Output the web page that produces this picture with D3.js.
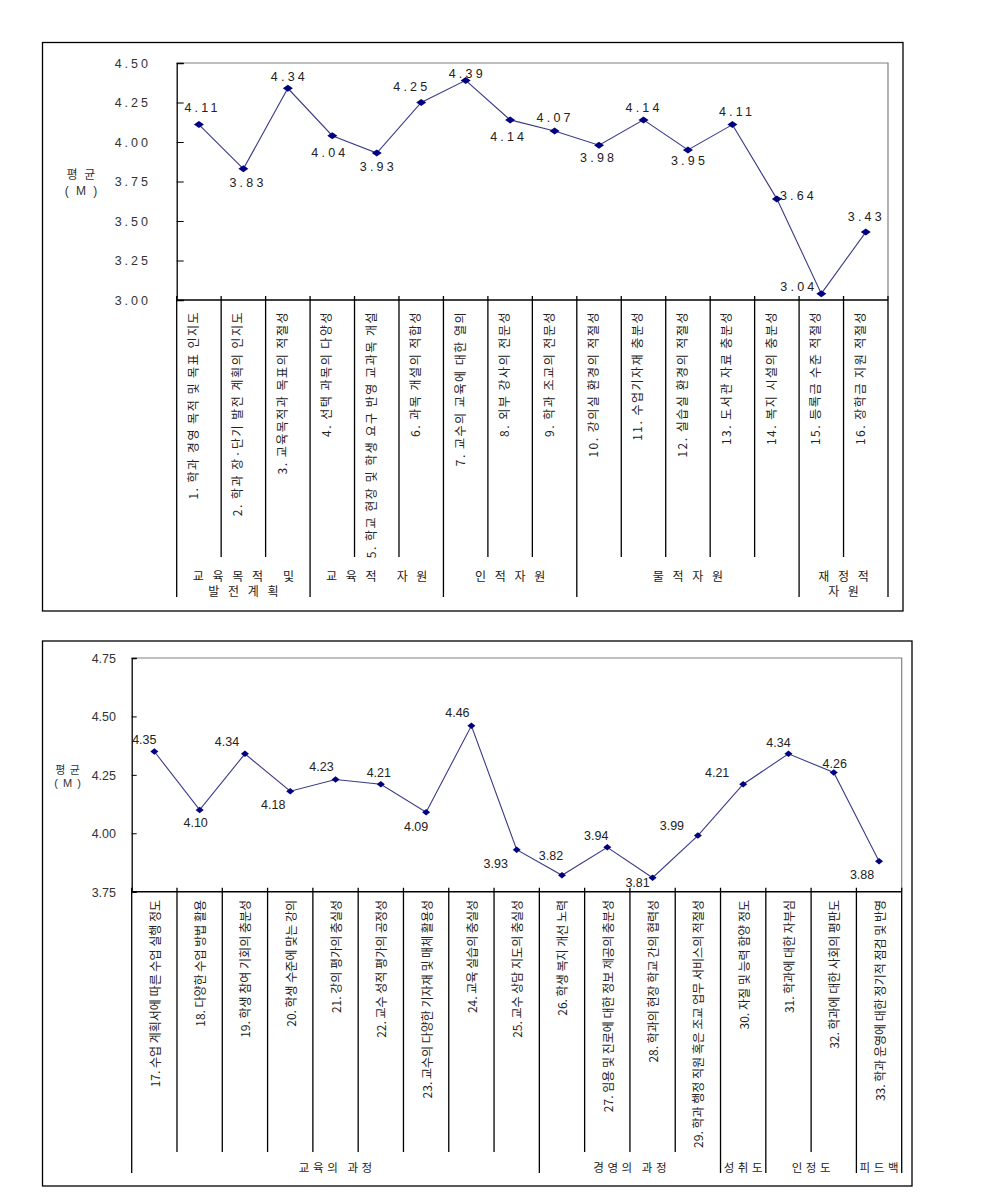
<!DOCTYPE html>
<html><head><meta charset="utf-8">
<script src="https://cdn.jsdelivr.net/npm/d3@7"></script>
<style>
html,body{margin:0;padding:0;background:#fff;}
svg{display:block;}
text{font-family:"Liberation Sans",Arial,sans-serif;white-space:pre;}
.kr{font-family:"Noto Sans CJK KR","Noto Sans",sans-serif;}
</style></head>
<body>
<svg id="chart" width="986" height="1194"></svg>
<script>
// ---------- data ----------
const topCategories = [
  "1. 학과 경영 목적 및 목표 인지도",
  "2. 학과 장·단기 발전 계획의 인지도",
  "3. 교육목적과 목표의 적절성",
  "4. 선택 과목의 다양성",
  "5. 학교 현장 및 학생 요구 반영 교과목 개설",
  "6. 과목 개설의 적합성",
  "7. 교수의 교육에 대한 열의",
  "8. 외부 강사의 전문성",
  "9. 학과 조교의 전문성",
  "10. 강의실 환경의 적절성",
  "11. 수업기자재 충분성",
  "12. 실습실 환경의 적절성",
  "13. 도서관 자료 충분성",
  "14. 복지 시설의 충분성",
  "15. 등록금 수준 적절성",
  "16. 장학금 지원 적절성"
];
const topValues = [4.11, 3.83, 4.34, 4.04, 3.93, 4.25, 4.39, 4.14, 4.07, 3.98, 4.14, 3.95, 4.11, 3.64, 3.04, 3.43];
const topGroupNames = [["교 육 목 적   및", "발 전 계 획"], ["교 육 적   자 원"], ["인 적 자 원"], ["물 적 자 원"], ["재 정 적", "자 원"]];
const topGroupSizes = [3, 3, 3, 5, 2];
const topTicks = [3.00, 3.25, 3.50, 3.75, 4.00, 4.25, 4.50];

const bottomCategories = [
  "17. 수업 계획서에 따른 수업 실행 정도",
  "18. 다양한 수업 방법 활용",
  "19. 학생 참여 기회의 충분성",
  "20. 학생 수준에 맞는 강의",
  "21. 강의 평가의 충실성",
  "22. 교수 성적 평가의 공정성",
  "23. 교수의 다양한 기자재 및 매체 활용성",
  "24. 교육 실습의 충실성",
  "25. 교수 상담 지도의 충실성",
  "26. 학생 복지 개선 노력",
  "27. 임용 및 진로에 대한 정보 제공의 충분성",
  "28. 학과의 현장 학교 간의 협력성",
  "29. 학과 행정 직원 혹은 조교 업무 서비스의 적절성",
  "30. 자질 및 능력 함양 정도",
  "31. 학과에 대한 자부심",
  "32. 학과에 대한 사회의 평판도",
  "33. 학과 운영에 대한 정기적 점검 및 반영"
];
const bottomValues = [4.35, 4.10, 4.34, 4.18, 4.23, 4.21, 4.09, 4.46, 3.93, 3.82, 3.94, 3.81, 3.99, 4.21, 4.34, 4.26, 3.88];
const bottomGroupNames = [["교 육 의   과 정"], ["경 영 의   과 정"], ["성 취 도"], ["인 정 도"], ["피 드 백"]];
const bottomGroupSizes = [9, 4, 1, 2, 1];
const bottomTicks = [3.75, 4.00, 4.25, 4.50, 4.75];

// ---------- layout (label placement offsets, px) ----------
const topLabelOffsets = [[2,-17],[3,14],[0,-11],[-4,17],[0,14],[-11,-16],[0,-6],[-3,17],[-1,-13],[-2,13],[-1,-12],[0,11],[3,-13],[20,-3],[-24,-7],[-1,-15]];
const bottomLabelOffsets = [[-10,-11],[-4,13],[-18,-12],[-17,14],[-14,-13],[-2,-11],[-10,15],[-14,-13],[-21,14],[-11,-19],[-11,-11],[-15,5],[-26,-10],[-26,-11],[-10,-11],[1,-9],[-17,14]];

const svg = d3.select("#chart");

function drawPanel(cfg) {
  const g = svg.append("g");
  g.append("rect").attr("x", cfg.outer[0]).attr("y", cfg.outer[1])
    .attr("width", cfg.outer[2] - cfg.outer[0]).attr("height", cfg.outer[3] - cfg.outer[1])
    .attr("fill", "none").attr("stroke", "#000").attr("stroke-width", 1.3);

  const x = d3.scaleBand().domain(cfg.categories).range([cfg.left, cfg.right]);
  const y = d3.scaleLinear().domain(cfg.domain).range([cfg.bottom, cfg.top]);

  g.append("path").attr("d", `M${cfg.left},${cfg.top}H${cfg.right}V${cfg.bottom}`)
    .attr("fill", "none").attr("stroke", "#808080").attr("stroke-width", 1.2);

  const yAxis = d3.axisLeft(y).tickValues(cfg.ticks).tickSize(-cfg.ytick).tickPadding(0)
    .tickFormat(d3.format(".2f"));
  const ya = g.append("g").attr("transform", `translate(${cfg.left},0)`).call(yAxis);
  ya.select(".domain").attr("stroke", "#000").attr("stroke-width", 1.3);
  ya.selectAll(".tick line").attr("stroke", "#000");
  ya.selectAll(".tick text").attr("x", cfg.tickLabelX - cfg.left)
    .attr("font-size", cfg.tickFont).attr("fill", "#333")
    .attr("letter-spacing", cfg.tickSpacing).attr("dy", "0.35em");

  g.append("text").attr("class", "kr").attr("x", cfg.titleX).attr("y", cfg.titleY1)
    .attr("text-anchor", "middle").attr("font-size", cfg.titleFont).attr("fill", "#333")
    .attr("letter-spacing", cfg.titleSpacing).text("평 균");
  g.append("text").attr("x", cfg.titleX).attr("y", cfg.titleY2)
    .attr("text-anchor", "middle").attr("font-size", cfg.titleFont).attr("fill", "#333")
    .attr("letter-spacing", cfg.titleSpacing).text("( M )");

  g.append("line").attr("x1", cfg.left).attr("x2", cfg.right).attr("y1", cfg.bottom).attr("y2", cfg.bottom)
    .attr("stroke", "#000").attr("stroke-width", 1.5);

  const n = cfg.categories.length;
  const groupEnds = new Set();
  let acc = 0;
  cfg.groupSizes.forEach(s => { acc += s; groupEnds.add(acc); });
  for (let i = 0; i <= n; i++) {
    const xe = i < n ? x(cfg.categories[i]) : cfg.right;
    const long = i === 0 || groupEnds.has(i);
    g.append("line").attr("x1", xe).attr("x2", xe)
      .attr("y1", cfg.bottom - 4).attr("y2", long ? cfg.groupLineEnd : cfg.innerLineEnd)
      .attr("stroke", "#000").attr("stroke-width", 1.3);
  }

  cfg.categories.forEach(c => {
    const cx = x(c) + x.bandwidth() / 2 + cfg.catDx;
    g.append("text").attr("class", "kr")
      .attr("transform", `translate(${cx},${cfg.catTop}) rotate(-90)`)
      .attr("text-anchor", "end").attr("dominant-baseline", "central")
      .attr("font-size", cfg.catFont).attr("letter-spacing", cfg.catSpacing)
      .attr("fill", "#222").text(c);
  });

  acc = 0;
  cfg.groupSizes.forEach((s, gi) => {
    const x0 = x(cfg.categories[acc]);
    const x1 = acc + s < n ? x(cfg.categories[acc + s]) : cfg.right;
    acc += s;
    cfg.groupNames[gi].forEach((line, li) => {
      g.append("text").attr("class", "kr").attr("x", (x0 + x1) / 2 + cfg.groupSpacing / 2)
        .attr("y", cfg.groupY + li * cfg.groupLineH)
        .attr("text-anchor", "middle").attr("dominant-baseline", "central")
        .attr("font-size", cfg.groupFont).attr("letter-spacing", cfg.groupSpacing)
        .attr("fill", "#222").text(line);
    });
  });

  const pts = cfg.values.map((v, i) => [x(cfg.categories[i]) + x.bandwidth() / 2, y(v)]);
  g.append("path").attr("d", d3.line()(pts)).attr("fill", "none")
    .attr("stroke", "#3a3a88").attr("stroke-width", 1.1);

  const mw = cfg.markW / 2, mh = cfg.markH / 2;
  g.selectAll(".mk").data(pts).enter().append("path")
    .attr("d", d => `M${d[0]-mw},${d[1]}L${d[0]},${d[1]-mh}L${d[0]+mw},${d[1]}L${d[0]},${d[1]+mh}Z`)
    .attr("fill", "#000080");

  cfg.values.forEach((v, i) => {
    const off = cfg.labelOffsets[i];
    g.append("text").attr("x", pts[i][0] + off[0] + cfg.valSpacing / 2).attr("y", pts[i][1] + off[1])
      .attr("text-anchor", "middle").attr("dominant-baseline", "central")
      .attr("font-size", cfg.valFont).attr("letter-spacing", cfg.valSpacing)
      .attr("fill", "#222").text(d3.format(".2f")(v));
  });
}

drawPanel({
  outer: [42.5, 42.5, 903, 611],
  categories: topCategories, values: topValues, domain: [3.0, 4.5], ticks: topTicks,
  left: 176.7, right: 888, top: 63, bottom: 300,
  ytick: 7, tickLabelX: 151, tickFont: 12.5, tickSpacing: 3,
  titleX: 82, titleY1: 179, titleY2: 195, titleFont: 12, titleSpacing: 2,
  groupSizes: topGroupSizes, groupNames: topGroupNames,
  innerLineEnd: 557, groupLineEnd: 597,
  catTop: 311, catDx: -6.5, catFont: 12, catSpacing: 1.5,
  groupY: 575, groupLineH: 15, groupFont: 12, groupSpacing: 3,
  markW: 10, markH: 7, labelOffsets: topLabelOffsets, valFont: 12.5, valSpacing: 3.2
});

drawPanel({
  outer: [42.5, 641, 912, 1186],
  categories: bottomCategories, values: bottomValues, domain: [3.75, 4.75], ticks: bottomTicks,
  left: 131.7, right: 901.7, top: 658, bottom: 891.7,
  ytick: 5, tickLabelX: 116, tickFont: 12.5, tickSpacing: 0,
  titleX: 68, titleY1: 774, titleY2: 787, titleFont: 11, titleSpacing: 1,
  groupSizes: bottomGroupSizes, groupNames: bottomGroupNames,
  innerLineEnd: 1152, groupLineEnd: 1173,
  catTop: 900, catDx: 0, catFont: 12, catSpacing: 0,
  groupY: 1167, groupLineH: 15, groupFont: 11.5, groupSpacing: 0.5,
  markW: 8, markH: 6.5, labelOffsets: bottomLabelOffsets, valFont: 12.5, valSpacing: 0
});
</script>
</body></html>
